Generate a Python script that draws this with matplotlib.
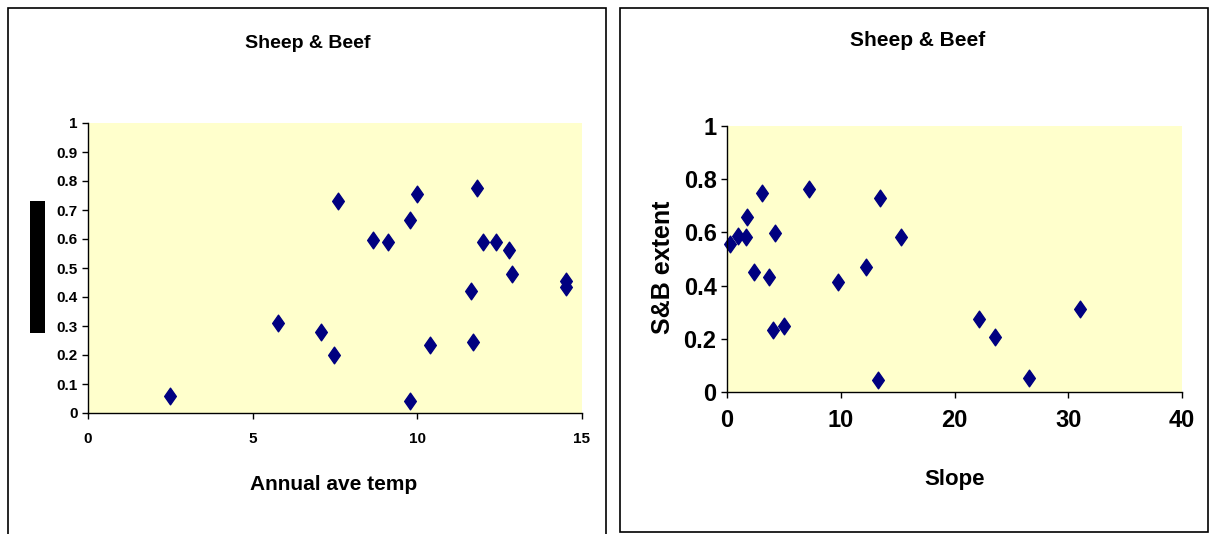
import matplotlib
matplotlib.use("Agg")
import matplotlib.pyplot as plt
from matplotlib.patches import Rectangle
from matplotlib.path import Path

# Sheep & Beef extent vs annual average temperature
temp = [2.49, 5.76, 7.09, 7.47, 7.59, 8.66, 9.11, 9.79, 9.79, 9.98,
        10.39, 11.62, 11.70, 11.81, 11.99, 12.39, 12.77, 12.88, 14.50, 14.50]
temp_extent = [0.060, 0.310, 0.278, 0.201, 0.732, 0.598, 0.588, 0.664, 0.043, 0.756,
               0.235, 0.421, 0.244, 0.775, 0.588, 0.588, 0.563, 0.479, 0.456, 0.433]

# Sheep & Beef extent vs slope
slope = [0.30, 0.97, 1.70, 1.79, 2.35, 3.05, 3.69, 4.19, 4.04, 5.04,
         7.21, 9.76, 12.25, 13.42, 13.28, 15.33, 22.15, 23.53, 26.55, 31.07]
slope_extent = [0.557, 0.587, 0.584, 0.659, 0.451, 0.747, 0.434, 0.597, 0.234, 0.249,
                0.763, 0.415, 0.469, 0.728, 0.044, 0.584, 0.275, 0.205, 0.054, 0.312]

left_yticks = [0, 0.1, 0.2, 0.3, 0.4, 0.5, 0.6, 0.7, 0.8, 0.9, 1]
left_xticks = [0, 5, 10, 15]
right_yticks = [0, 0.2, 0.4, 0.6, 0.8, 1]
right_xticks = [0, 10, 20, 30, 40]

plt.rcParams['font.family'] = ['Liberation Sans', 'DejaVu Sans']
plt.rcParams['font.weight'] = 'bold'

navy = '#000080'
yellow = '#FFFFCC'
diamond = Path([(0, 1), (0.7, 0), (0, -1), (-0.7, 0), (0, 1)],
               [Path.MOVETO, Path.LINETO, Path.LINETO, Path.LINETO, Path.CLOSEPOLY])

W, H = 1211, 534
fig = plt.figure(figsize=(W / 100, H / 100), dpi=100)


def fx(px):
    return px / W


def fy(py):
    return 1 - py / H


# panel frames
fig.patches.append(Rectangle((fx(8), fy(545)), fx(598), (545 - 8) / H, fill=False,
                             edgecolor='black', linewidth=1.2, transform=fig.transFigure))
fig.patches.append(Rectangle((fx(620), fy(532)), fx(588), (532 - 8) / H, fill=False,
                             edgecolor='black', linewidth=1.2, transform=fig.transFigure))


def style(ax):
    ax.set_facecolor(yellow)
    for s in ['top', 'right']:
        ax.spines[s].set_visible(False)
    for s in ['left', 'bottom']:
        ax.spines[s].set_color('black')
        ax.spines[s].set_linewidth(1.0)
    ax.tick_params(direction='out', length=4, width=1, colors='black')


# left panel
ax1 = fig.add_axes([fx(88), fy(413), fx(582 - 88), (413 - 123) / H])
style(ax1)
ax1.plot(temp, temp_extent, linestyle='none', marker=diamond, markersize=12,
         color=navy, markeredgecolor=navy, clip_on=False)
ax1.set_xlim(0, 15)
ax1.set_ylim(0, 1)
ax1.set_xticks(left_xticks)
ax1.set_xticklabels([str(v) for v in left_xticks], fontsize=11, fontweight='bold')
ax1.set_yticks(left_yticks)
ax1.set_yticklabels([f'{v:g}' for v in left_yticks], fontsize=11, fontweight='bold')
ax1.tick_params(axis='x', pad=10)
fig.text(fx(308), fy(43), 'Sheep & Beef', ha='center', va='center', fontsize=14, fontweight='bold')
fig.text(fx(334), fy(484), 'Annual ave temp', ha='center', va='center', fontsize=15, fontweight='bold')
# blacked-out y axis label
fig.patches.append(Rectangle((fx(30), fy(333)), fx(15), (333 - 201) / H, facecolor='black',
                             edgecolor='none', transform=fig.transFigure))

# right panel
ax2 = fig.add_axes([fx(727), fy(392), fx(1182 - 727), (392 - 126) / H])
style(ax2)
ax2.plot(slope, slope_extent, linestyle='none', marker=diamond, markersize=12,
         color=navy, markeredgecolor=navy, clip_on=False)
ax2.set_xlim(0, 40)
ax2.set_ylim(0, 1)
ax2.set_xticks(right_xticks)
ax2.set_xticklabels([str(v) for v in right_xticks], fontsize=17, fontweight='bold')
ax2.set_yticks(right_yticks)
ax2.set_yticklabels([f'{v:g}' for v in right_yticks], fontsize=17, fontweight='bold')
ax2.tick_params(axis='x', pad=8)
fig.text(fx(918), fy(41), 'Sheep & Beef', ha='center', va='center', fontsize=15, fontweight='bold')
fig.text(fx(955), fy(479), 'Slope', ha='center', va='center', fontsize=16, fontweight='bold')
fig.text(fx(663), fy(267), 'S&B extent', ha='center', va='center', rotation=90,
         fontsize=18, fontweight='bold')

fig.savefig('out.png', dpi=100)
